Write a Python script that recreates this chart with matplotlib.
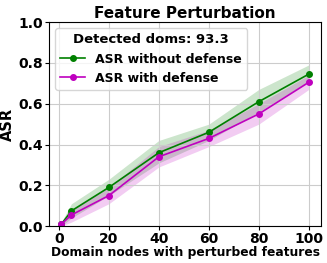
import numpy as np
import matplotlib
matplotlib.use("Agg")
import matplotlib.pyplot as plt

plt.rcParams["font.weight"] = "bold"
plt.rcParams["axes.labelweight"] = "bold"
plt.rcParams["axes.titleweight"] = "bold"

x = [1, 5, 20, 40, 60, 80, 100]
asr_no_def = [0.01, 0.075, 0.19, 0.36, 0.46, 0.61, 0.745]
asr_no_def_lo = [0.0, 0.04, 0.15, 0.31, 0.42, 0.56, 0.71]
asr_no_def_hi = [0.02, 0.11, 0.23, 0.42, 0.50, 0.67, 0.79]
asr_def = [0.01, 0.055, 0.15, 0.34, 0.43, 0.55, 0.705]
asr_def_lo = [0.0, 0.02, 0.11, 0.29, 0.39, 0.50, 0.67]
asr_def_hi = [0.02, 0.08, 0.19, 0.39, 0.47, 0.60, 0.74]

fig, ax = plt.subplots(figsize=(3.27, 2.63), dpi=100)
ax.plot(x, asr_no_def, "-o", color="green", markersize=4, linewidth=1.2, label="ASR without defense")
ax.fill_between(x, asr_no_def_lo, asr_no_def_hi, color="green", alpha=0.2, linewidth=0)
ax.plot(x, asr_def, "-o", color="m", markersize=4, linewidth=1.2, label="ASR with defense")
ax.fill_between(x, asr_def_lo, asr_def_hi, color="m", alpha=0.2, linewidth=0)

ax.set_ylim(0, 1.0)
ax.set_title("Feature Perturbation", fontsize=11, pad=3)
ax.set_xlabel("Domain nodes with perturbed features", fontsize=8.8, labelpad=0)
ax.set_ylabel("ASR", fontsize=10.5, labelpad=2)
ax.tick_params(labelsize=10, length=3, pad=1.5)
ax.grid(True, color="#cccccc")
leg = ax.legend(title="Detected doms: 93.3", loc="upper left", fontsize=9, title_fontsize=9.5)
leg.get_title().set_fontweight("bold")

fig.subplots_adjust(left=0.15, right=0.982, top=0.916, bottom=0.14)
fig.savefig("out.png", dpi=100)
